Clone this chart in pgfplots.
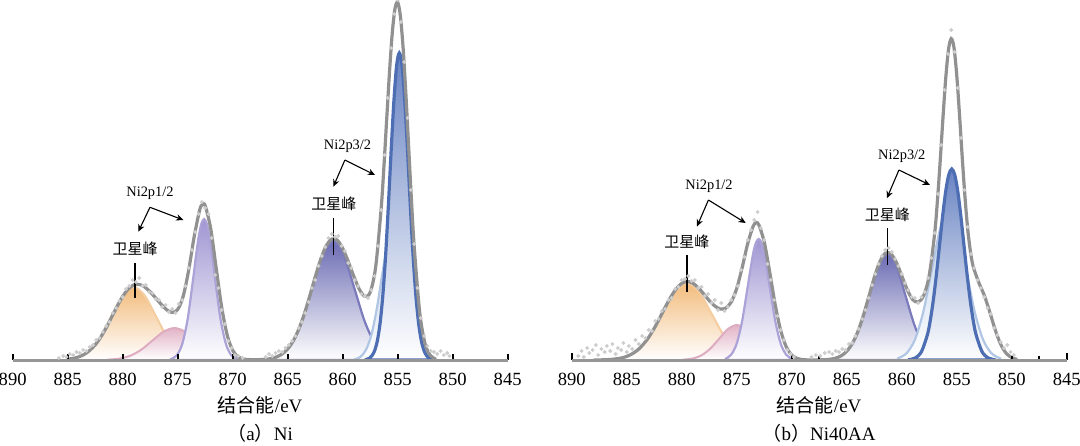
\documentclass[border=0pt]{standalone}
\usepackage{fontspec}
\setmainfont{Liberation Serif}
\newfontfamily\cjk{Noto Sans CJK SC}
\usepackage{pgfplots}
\pgfplotsset{compat=1.18}
\usetikzlibrary{arrows.meta}
\definecolor{axc}{RGB}{150,150,150}
\definecolor{envc}{RGB}{145,145,145}
\definecolor{dotc}{RGB}{205,205,205}
\definecolor{orgf}{RGB}{242,188,125}
\definecolor{orgl}{RGB}{244,205,160}
\definecolor{pinkf}{RGB}{226,180,198}
\definecolor{pinkl}{RGB}{222,172,192}
\definecolor{purf}{RGB}{160,150,210}
\definecolor{purl}{RGB}{172,162,215}
\definecolor{satf}{RGB}{108,108,180}
\definecolor{satl}{RGB}{122,122,188}
\definecolor{lbf}{RGB}{185,205,232}
\definecolor{lbl}{RGB}{176,198,228}
\definecolor{dbf}{RGB}{105,132,195}
\definecolor{dbl}{RGB}{78,110,180}
\tikzset{
  arr/.style={-{Stealth[length=3.6pt,width=3.2pt]}, line width=0.55pt, black},
  ann/.style={font=\fontsize{7.2}{8}\selectfont, inner sep=0pt},
  cann/.style={font={\cjk\fontsize{7.5}{8}\selectfont}, inner sep=0pt},
}
\pgfplotsset{
  xps/.style={
    scale only axis, width=247.5pt, height=180pt,
    x dir=reverse, xmin=845, xmax=890, ymin=0, ymax=360,
    axis x line*=bottom, axis y line=none,
    x axis line style={draw=axc, line width=1.5pt},
    xtick={845,850,855,860,865,870,875,880,885,890},
    xticklabels={845,850,855,860,865,870,875,880,885,890},
    xtick align=inside,
    tick style={black, line width=1pt},
    major tick length=3.2pt,
    xticklabel style={font=\fontsize{9.3}{11}\selectfont, yshift=-3.2pt},
    clip=false, axis on top,
  },
}
\begin{document}
\begin{tikzpicture}
\path[use as bounding box] (0,0) rectangle (540pt,222.5pt);
% ---------------- (a) Ni ----------------
\begin{axis}[xps, at={(6.35pt,42.5pt)}, anchor=south west]
\addplot[draw=orgl, line width=1pt, smooth, top color=orgf, bottom color=white] coordinates {
(885,0.8)(884,3.2)(883,9.9)(882,23.7)(881,44.3)(880,64.4)(879,73)(878,64.4)(877,44.3)(876,23.7)(875,9.9)(874,3.2)(873,0.8)} \closedcycle;
\addplot[draw=pinkl, line width=1pt, smooth, top color=pinkf, bottom color=white] coordinates {
(881.3,0.35)(880.3,1.4)(879.3,4.3)(878.3,10.4)(877.3,19.4)(876.3,28.2)(875.3,32)(874.3,28.2)(873.3,19.4)(872.3,10.4)(871.3,4.3)(870.3,1.4)(869.3,0.35)} \closedcycle;
\addplot[draw=purl, line width=1.1pt, smooth, top color=purf, bottom color=white] coordinates {
(875.6,1.0)(875.1,4.4)(874.6,15.5)(874.1,40.5)(873.6,80.9)(873.35,103.2)(873.1,122.8)(872.85,136.2)(872.6,141)(872.35,136.2)(872.1,122.8)(871.85,103.2)(871.6,80.9)(871.1,40.5)(870.6,15.5)(870.1,4.4)(869.6,1.0)} \closedcycle;
\addplot[draw=satl, line width=1.1pt, smooth, top color=satf, bottom color=white] coordinates {
(866.55,1.3)(865.6,5.2)(864.65,16.1)(863.7,38.6)(862.75,72.2)(861.8,105.0)(860.85,119)(859.9,105.0)(858.95,72.2)(858.0,38.6)(857.05,16.1)(856.1,5.2)(855.15,1.3)} \closedcycle;
\addplot[draw=lbl, line width=1.1pt, smooth, top color=lbf, bottom color=white] coordinates {
(858.9,0.8)(858.4,3.1)(857.9,9.8)(857.4,24.8)(856.9,51.2)(856.4,86.0)(855.9,117.3)(855.4,130)(854.9,117.3)(854.4,86.0)(853.9,51.2)(853.4,24.8)(852.9,9.8)(852.4,3.1)(851.9,0.8)} \closedcycle;
\addplot[draw=dbl, line width=1.6pt, smooth, top color=dbf, bottom color=white] coordinates {
(857.85,0.6)(857.6,1.6)(857.35,4.1)(857.1,9.2)(856.85,19.2)(856.6,36.8)(856.35,64.8)(856.1,104.1)(855.85,153.8)(855.6,208.1)(855.35,258.2)(855.1,294.1)(854.85,307)(854.6,294.1)(854.35,258.2)(854.1,208.1)(853.85,153.8)(853.6,104.1)(853.35,64.8)(853.1,36.8)(852.85,19.2)(852.6,9.2)(852.35,4.1)(852.1,1.6)(851.85,0.6)} \closedcycle;
\addplot[only marks, mark=*, mark size=0.75pt, color=dotc] coordinates {
(885.8,2)(885.4,4)(885.1,3)(884.8,6)(884.5,5)(884.2,8)(883.9,7)(883.6,10)(883.3,9)(883,13)(882.7,15)(882.4,20)(882.1,22)(881.8,28)(881.5,34)(881.2,38)(880.9,47)(880.6,52)(880.3,59)(880,63)(879.7,71)(879.4,74)(879.1,80)(878.8,78)(878.5,82)(878.2,74)(877.9,75)(877.6,68)(877.3,67)(877,61)(876.7,60)(876.4,53)(876.1,55)(875.8,48)(875.5,51)(875.2,47)(874.9,56)(874.6,60)(874.3,74)(874,92)(873.7,110)(873.4,128)(873.1,146)(872.8,158)(872.5,152)(872.2,146)(871.9,122)(871.6,85)(871.3,72)(871,50)(870.7,36)(870.4,19)(870.1,12)(869.8,5)(869.5,4)(869.1,2)
(867,3)(866.7,6)(866.4,4)(866.1,7)(865.8,9)(865.5,8)(865.2,12)(864.9,15)(864.6,19)(864.3,24)(864,32)(863.7,38)(863.4,47)(863.1,58)(862.8,72)(862.5,80)(862.2,94)(861.9,104)(861.6,113)(861.3,122)(861,126)(860.7,123)(860.4,124)(860.1,114)(859.8,109)(859.5,97)(859.2,92)(858.9,80)(858.6,74)(858.3,66)(858,64)(857.7,62)(857.4,70)(857.1,84)(856.8,114)(856.5,150)(856.2,205)(855.9,262)(855.6,312)(855.3,346)(855,360)(854.7,338)(854.4,298)(854.1,242)(853.8,170)(853.5,116)(853.2,72)(852.9,42)(852.6,24)(852.3,14)(852,9)(851.7,8)(851.4,6)(851.1,9)(850.8,5)(850.5,7)(850.3,4)};
\addplot[envc, line width=1.6pt, smooth] coordinates {
(885,0.8)(884.5,1.6)(884,3.1)(883.5,5.6)(883,9.6)(882.5,15.1)(882,22.8)(881.5,32.2)(881,43.0)(880.5,53.8)(880,63.6)(879.5,70.9)(879,75.1)(878.5,75.6)(878,73.1)(877.5,68.1)(877,62.0)(876.5,55.7)(876,50.2)(875.5,47.5)(875,50.5)(874.5,63.8)(874,89.9)(873.5,123.4)(873,150.1)(872.75,155.5)(872.5,154.3)(872,131.5)(871.5,91.9)(871,52.8)(870.5,24.9)(870,9.6)(869.5,3.2)(869,0.9)(868.5,0.4)(868,0.3)(867.5,0.4)(867,0.7)(866.5,1.45)(866,3.1)(865.5,6.1)(865,11.1)(864.5,19.1)(864,30.6)(863.5,45.7)(863,63.8)(862.5,83.0)(862,100.7)(861.5,114.2)(861,121.0)(860.5,119.9)(860,111.7)(859.5,98.6)(859,84.0)(858.5,71.0)(858,63.7)(857.5,67.7)(857,93.2)(856.5,151.9)(856.25,193.7)(856,240.6)(855.75,286.9)(855.5,326.0)(855.25,351.1)(855,357.7)(854.75,343.5)(854.5,311.0)(854.25,265.0)(854,212.5)(853.75,160.1)(853.5,113.7)(853,47.7)(852.5,15.8)(852,4.2)(851.5,0.8)};
% annotations
\node[ann] at (axis cs:877.52,166.7) {Ni2p1/2};
\draw[arr] (axis cs:877.52,152.7) -- (axis cs:878.58,128.3);
\draw[arr] (axis cs:877.52,152.7) -- (axis cs:874.49,140);
\node[cann] at (axis cs:878.88,111.7) {卫星峰};
\draw[black, line width=0.55pt] (axis cs:878.88,96.7) -- (axis cs:878.88,61.7);
\node[ann] at (axis cs:859.56,213.3) {Ni2p3/2};
\draw[arr] (axis cs:859.8,200) -- (axis cs:860.85,173.3);
\draw[arr] (axis cs:859.8,200) -- (axis cs:857.06,185);
\node[cann] at (axis cs:860.8,156.7) {卫星峰};
\draw[black, line width=0.55pt] (axis cs:860.85,141.7) -- (axis cs:860.85,105);
\node[font=\fontsize{9.5}{11}\selectfont] at (rel axis cs:0.5,0) [yshift=-22.5pt] {{\cjk 结合能}/eV};
\node[font=\fontsize{9.5}{11}\selectfont, inner sep=1pt] at (rel axis cs:0.5,0) [yshift=-36.8pt] {{\cjk （}a{\cjk ）}Ni};
\end{axis}
% ---------------- (b) Ni40AA ----------------
\begin{axis}[xps, at={(285.85pt,42.5pt)}, anchor=south west, major tick length=0pt]
\addplot[draw=orgl, line width=1pt, smooth, top color=orgf, bottom color=white] coordinates {
(886.1,0.85)(885.0,3.4)(883.9,10.4)(882.8,25.0)(881.7,46.7)(880.6,68.0)(879.5,77)(878.4,68.0)(877.3,46.7)(876.2,25.0)(875.1,10.4)(874.0,3.4)(872.9,0.85)} \closedcycle;
\addplot[draw=pinkl, line width=1pt, smooth, top color=pinkf, bottom color=white] coordinates {
(879.8,0.4)(879.0,1.5)(878.2,4.7)(877.4,11.4)(876.6,21.2)(875.8,30.9)(875.0,35)(874.2,30.9)(873.4,21.2)(872.6,11.4)(871.8,4.7)(871.0,1.5)(870.2,0.4)} \closedcycle;
\addplot[draw=purl, line width=1.1pt, smooth, top color=purf, bottom color=white] coordinates {
(876.0,1.3)(875.5,5.3)(875.0,16.4)(874.5,39.3)(874.0,73.4)(873.5,106.8)(873.25,117.3)(873.0,121)(872.75,117.3)(872.5,106.8)(872.0,73.4)(871.5,39.3)(871.0,16.4)(870.5,5.3)(870.0,1.3)} \closedcycle;
\addplot[draw=satl, line width=1.1pt, smooth, top color=satf, bottom color=white] coordinates {
(866.25,1.2)(865.425,4.7)(864.6,14.3)(863.775,34.4)(862.95,64.3)(862.125,93.5)(861.3,106)(860.475,93.5)(859.65,64.3)(858.825,34.4)(858.0,14.3)(857.175,4.7)(856.35,1.2)} \closedcycle;
\addplot[draw=lbl, line width=1.1pt, smooth, top color=lbf, bottom color=white] coordinates {
(860.35,1.7)(859.575,6.6)(858.8,20.3)(858.025,48.7)(857.25,91.0)(856.475,132.4)(855.7,150)(854.925,132.4)(854.15,91.0)(853.375,48.7)(852.6,20.3)(851.825,6.6)(851.05,1.7)} \closedcycle;
\addplot[draw=dbl, line width=1.6pt, smooth, top color=dbf, bottom color=white] coordinates {
(859.3,0.4)(858.75,2.1)(858.2,8.4)(857.65,25.8)(857.375,41.3)(857.1,62.0)(856.825,87.4)(856.55,115.8)(856.275,144.2)(856.0,168.6)(855.725,185.1)(855.45,191)(855.175,185.1)(854.9,168.6)(854.625,144.2)(854.35,115.8)(854.075,87.4)(853.8,62.0)(853.525,41.3)(853.25,25.8)(852.7,8.4)(852.15,2.1)(851.6,0.4)} \closedcycle;
\addplot[only marks, mark=*, mark size=0.75pt, color=dotc] coordinates {
(889.4,4)(889.1,9)(888.9,3)(888.6,12)(888.4,7)(888.1,10)(887.8,15)(887.6,5)(887.3,11)(887,8)(886.8,14)(886.5,9)(886.3,16)(886,6)(885.8,12)(885.5,10)(885.3,17)(885,8)(884.8,14)(884.5,11)(884.2,20)(883.9,16)(883.6,24)(883.3,22)(883,30)(882.7,29)(882.4,39)(882.1,41)(881.8,49)(881.5,51)(881.2,60)(880.9,62)(880.6,71)(880.3,73)(880,80)(879.7,81)(879.4,84)(879.1,79)(878.8,80)(878.5,72)(878.2,73)(877.9,64)(877.6,66)(877.3,57)(877,60)(876.7,50)(876.4,57)(876.1,49)(875.8,53)(875.5,60)(875.2,65)(874.9,74)(874.6,90)(874.3,103)(874,120)(873.7,130)(873.4,140)(873.1,148)(872.8,132)(872.5,120)(872.2,96)(871.9,80)(871.6,60)(871.3,44)(871,30)(870.7,20)(870.4,10)(870.1,6)(869.8,3)
(868.2,3)(867.8,5)(867.4,4)(867,7)(866.6,8)(866.3,6)(866,9)(865.7,8)(865.4,11)(865.1,10)(864.8,16)(864.5,17)(864.2,24)(863.9,31)(863.6,41)(863.3,50)(863,62)(862.7,75)(862.4,86)(862.1,96)(861.8,104)(861.5,110)(861.2,112)(860.9,108)(860.6,101)(860.3,94)(860,86)(859.7,77)(859.4,70)(859.1,63)(858.8,62)(858.5,57)(858.2,63)(857.9,68)(857.6,82)(857.3,102)(857,127)(856.7,166)(856.4,215)(856.1,270)(855.8,306)(855.5,330)(855.2,308)(854.9,272)(854.6,222)(854.3,170)(854,133)(853.7,106)(853.4,92)(853.1,80)(852.8,72)(852.5,63)(852.2,52)(851.9,46)(851.6,32)(851.3,25)(851,18)(850.7,12)(850.4,15)(850.1,8)(849.8,5)};
\addplot[envc, line width=1.6pt, smooth] coordinates {
(888,0.05)(887.5,0.1)(887,0.25)(886.5,0.5)(886,1.1)(885.5,2.0)(885,3.6)(884.5,6.2)(884,10.0)(883.5,15.6)(883,22.7)(882.5,31.7)(882,42.0)(881.5,52.8)(881,62.9)(880.5,71.2)(880,76.6)(879.5,78.6)(879,76.9)(878.5,72.3)(878,66.1)(877.5,59.5)(877,54.1)(876.5,51.0)(876,51.8)(875.5,57.9)(875,71.5)(874.5,92.5)(874,116.4)(873.5,133.9)(873.25,137.1)(873,135.5)(872.5,118.2)(872,88.0)(871.5,55.3)(871,29.5)(870.5,13.3)(870,5.0)(869.5,1.6)(869,0.4)(868.5,0.1)(868,0.1)(867.5,0.1)(867,0.3)(866.5,0.75)(866,1.9)(865.5,4.2)(865,8.7)(864.5,16.3)(864,28.0)(863.5,44.0)(863,62.9)(862.5,82.3)(862,98.0)(861.5,106.7)(861,106.5)(860.5,98.0)(860,84.4)(859.5,70.4)(859,60.4)(858.5,58.0)(858,64.5)(857.5,84.4)(857,126.8)(856.75,159.6)(856.5,199.0)(856.25,241.8)(856,281.3)(855.75,310.2)(855.5,321.4)(855.25,312.7)(855,285.4)(854.75,246.3)(854.5,203.3)(854.25,163.4)(854,131.0)(853.75,108.4)(853.5,93.5)(853,77.7)(852.5,64.9)(852,48.2)(851.5,30.2)(851,15.7)(850.5,6.7)(850,2.4)(849.5,0.6)};
% ticks of panel (b)
\draw[black, line width=1pt] (axis cs:890,0) -- ++(0pt,3.4pt);
\draw[black, line width=1pt] (axis cs:845,0) -- ++(0pt,3.4pt);
\draw[black, line width=1pt] (axis cs:870,0) -- ++(0pt,1.8pt);
\draw[black, line width=1pt] (axis cs:867.5,0) -- ++(0pt,1.8pt);
\draw[black, line width=1pt] (axis cs:850,0) -- ++(0pt,1.8pt);
\draw[black, line width=1pt] (axis cs:847.5,0) -- ++(0pt,1.8pt);
% annotations
\node[ann] at (axis cs:877.51,174) {Ni2p1/2};
\draw[arr] (axis cs:877.57,160) -- (axis cs:878.61,133.5);
\draw[arr] (axis cs:877.57,160) -- (axis cs:874.18,137);
\node[cann] at (axis cs:879.52,118.3) {卫星峰};
\draw[black, line width=0.55pt] (axis cs:879.52,105) -- (axis cs:879.52,68.3);
\node[ann] at (axis cs:859.99,203.3) {Ni2p3/2};
\draw[arr] (axis cs:860.25,190) -- (axis cs:861.35,161.7);
\draw[arr] (axis cs:860.25,190) -- (axis cs:857.43,175);
\node[cann] at (axis cs:861.31,145) {卫星峰};
\draw[black, line width=0.55pt] (axis cs:861.31,131.7) -- (axis cs:861.31,95);
\node[font=\fontsize{9.5}{11}\selectfont] at (rel axis cs:0.5,0) [yshift=-22.5pt] {{\cjk 结合能}/eV};
\node[font=\fontsize{9.5}{11}\selectfont, inner sep=1pt] at (rel axis cs:0.5,0) [yshift=-36.8pt] {{\cjk （}b{\cjk ）}Ni40AA};
\end{axis}
\end{tikzpicture}
\end{document}
